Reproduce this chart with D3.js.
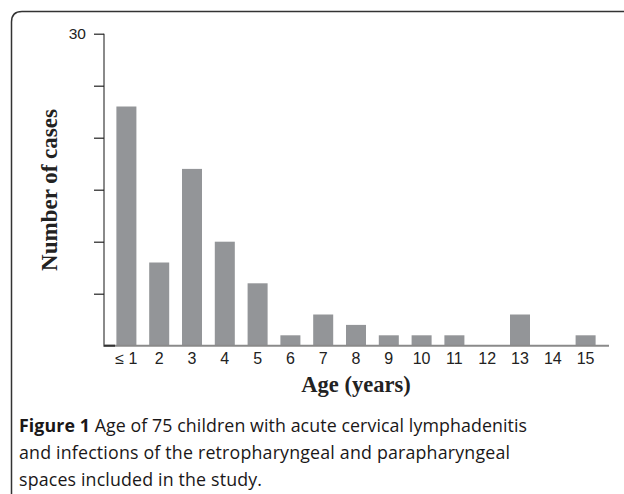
<!DOCTYPE html>
<html>
<head>
<meta charset="utf-8">
<script src="https://cdn.jsdelivr.net/npm/d3@7"></script>
<style>
  body { margin: 0; background: #fff; }
  svg { display: block; }
</style>
</head>
<body>
<svg width="624" height="494"></svg>
<script>
// age groups and number of cases
const ages = ['≤ 1', '2', '3', '4', '5', '6', '7', '8', '9', '10', '11', '12', '13', '14', '15'];
const cases = [23, 8, 17, 10, 6, 1, 3, 2, 1, 1, 1, 0, 3, 0, 1];
const yTicks = [0, 5, 10, 15, 20, 25, 30];
const yTickLabels = ['', '', '', '', '', '', '30'];
const captionLines = [
    [['Figure 1', true], [' Age of 75 children with acute cervical lymphadenitis', false]],
    [['and infections of the retropharyngeal and parapharyngeal', false]],
    [['spaces included in the study.', false]]
];

const data = ages.map((a, i) => ({ age: a, count: cases[i] }));

const svg = d3.select('svg');

// frame round the figure
svg.append('path')
    .attr('d', 'M11.5,494 V22 Q11.5,11.5 22,11.5 H624')
    .attr('fill', 'none')
    .attr('stroke', '#333')
    .attr('stroke-width', 1.5);

const x = d3.scaleBand()
    .domain(ages)
    .range([110, 602])
    .paddingInner(0.39)
    .paddingOuter(0.195);

const y = d3.scaleLinear()
    .domain([0, 30])
    .range([345.7, 33.7]);

// bars
svg.selectAll('.bar')
    .data(data)
    .enter().append('rect')
    .attr('class', 'bar')
    .attr('x', d => x(d.age))
    .attr('y', d => y(d.count))
    .attr('width', x.bandwidth())
    .attr('height', d => y(0) - y(d.count))
    .attr('fill', '#939598');

// y axis
const yAxis = svg.append('g')
    .attr('transform', 'translate(104,0)')
    .call(d3.axisLeft(y).tickValues(yTicks).tickSize(10).tickPadding(8)
        .tickFormat((d, i) => yTickLabels[i]));
yAxis.select('.domain').attr('stroke', '#8a8a8a').attr('stroke-width', 2)
    .attr('d', `M0,${y(30)}V${y(0)}`);
yAxis.selectAll('.tick line').attr('stroke', '#222').attr('stroke-width', 1.2);
yAxis.selectAll('.tick').filter(d => d === 0).select('line').remove();
yAxis.selectAll('text')
    .attr('font-family', '"Liberation Sans", Arial, sans-serif')
    .attr('font-size', 15.5)
    .attr('fill', '#222');

// x axis
const xAxis = svg.append('g')
    .attr('transform', `translate(0,${y(0)})`)
    .call(d3.axisBottom(x).tickSize(0).tickPadding(7));
xAxis.select('.domain').attr('stroke', '#8a8a8a').attr('stroke-width', 2)
    .attr('d', 'M103,0H609');
xAxis.selectAll('text')
    .attr('font-family', '"Liberation Sans", Arial, sans-serif')
    .attr('font-size', 16)
    .attr('fill', '#222');
// short dark piece at the origin
svg.append('line')
    .attr('x1', 104).attr('x2', 115)
    .attr('y1', y(0)).attr('y2', y(0))
    .attr('stroke', '#333').attr('stroke-width', 2);

// axis titles
svg.append('text')
    .attr('transform', 'translate(56.5,190) rotate(-90)')
    .attr('text-anchor', 'middle')
    .attr('font-family', '"Liberation Serif", "Times New Roman", serif')
    .attr('font-weight', 'bold')
    .attr('font-size', 23)
    .attr('fill', '#222')
    .text('Number of cases');

svg.append('text')
    .attr('x', 356)
    .attr('y', 392)
    .attr('text-anchor', 'middle')
    .attr('font-family', '"Liberation Serif", "Times New Roman", serif')
    .attr('font-weight', 'bold')
    .attr('font-size', 22.5)
    .attr('fill', '#222')
    .text('Age (years)');

// caption
const captionY = [432, 459, 486];
const captionWidth = [508, 491, 243];
captionLines.forEach((line, i) => {
    const t = svg.append('text')
        .attr('x', 19)
        .attr('y', captionY[i])
        .attr('font-family', '"Open Sans", Lato, sans-serif')
        .attr('font-size', 17.8)
        .attr('fill', '#1a1718')
        .attr('textLength', captionWidth[i])
        .attr('lengthAdjust', 'spacing');
    line.forEach(([s, b]) => {
        t.append('tspan')
            .attr('font-weight', b ? 'bold' : 500)
            .text(s);
    });
});
</script>
</body>
</html>
